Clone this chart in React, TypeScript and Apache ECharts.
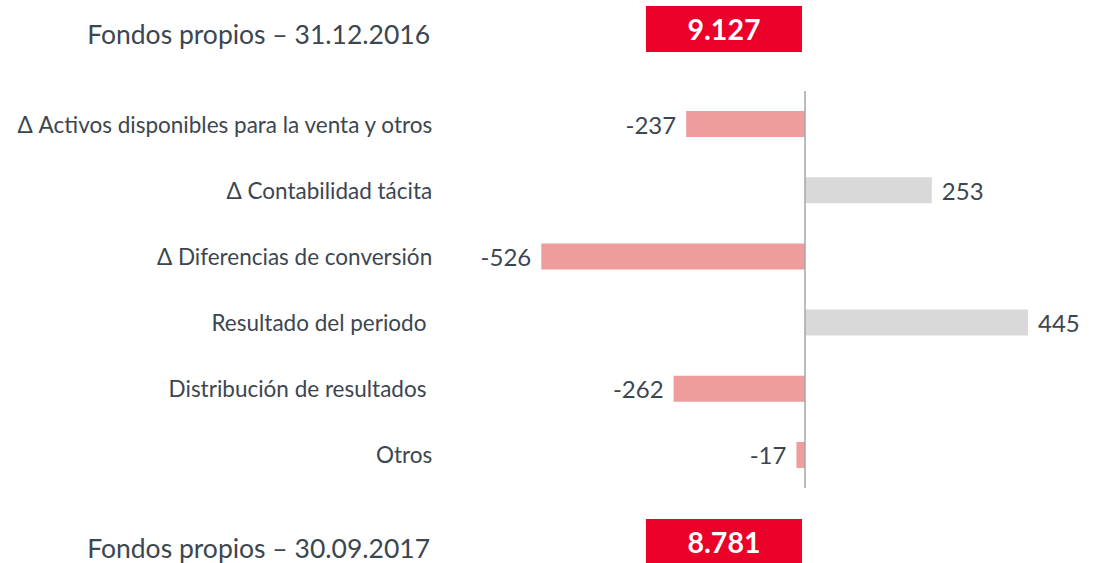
import React, { useEffect, useRef } from "react";
import * as echarts from "echarts";

const categories = [
  "Δ Activos disponibles para la venta y otros",
  "Δ Contabilidad tácita",
  "Δ Diferencias de conversión",
  "Resultado del periodo ",
  "Distribución de resultados ",
  "Otros",
];
const values = [-237, 253, -526, 445, -262, -17];
const totalLabels = ["Fondos propios – 31.12.2016", "Fondos propios – 30.09.2017"];
const totalValues = ["9.127", "8.781"];

const TEXT = "#3c4650";
const NEG = "#ee9c9c";
const POS = "#d9d9d9";
const RED = "#eb0029";
const FONT = "Lato";

export default function App() {
  const ref = useRef<HTMLDivElement>(null);
  useEffect(() => {
    document.body.style.margin = "0";
    const chart = echarts.init(ref.current!, null, { renderer: "svg" });
    const totalBox = (i: number, boxY: number, boxH: number, labelY: number) => [
      {
        type: "text",
        x: 430,
        y: labelY,
        style: {
          text: totalLabels[i],
          textAlign: "right",
          textVerticalAlign: "middle",
          fontSize: 26.5,
          fontFamily: FONT,
          fill: TEXT,
        },
      },
      {
        type: "rect",
        shape: { x: 646, y: boxY, width: 156, height: boxH },
        style: { fill: RED },
      },
      {
        type: "text",
        x: 724,
        y: boxY + boxH / 2,
        style: {
          text: totalValues[i],
          textAlign: "center",
          textVerticalAlign: "middle",
          fontSize: 28.5,
          fontWeight: "bold",
          fontFamily: FONT,
          fill: "#ffffff",
        },
      },
    ];
    chart.setOption({
      animation: false,
      grid: { left: 504.2, right: 45.4, top: 91, bottom: 75, containLabel: false },
      xAxis: {
        type: "value",
        min: -600,
        max: 500,
        axisLine: { show: false },
        axisTick: { show: false },
        axisLabel: { show: false },
        splitLine: { show: false },
      },
      yAxis: {
        type: "category",
        inverse: true,
        data: categories,
        axisLine: { show: false },
        axisTick: { show: false },
        axisLabel: {
          margin: 72,
          fontSize: 22.5,
          fontFamily: FONT,
          color: TEXT,
        },
      },
      series: [
        {
          type: "bar",
          barWidth: 26,
          data: values.map((v) => ({
            value: v,
            itemStyle: { color: v < 0 ? NEG : POS },
            label: { position: v < 0 ? "left" : "right" },
          })),
          label: {
            show: true,
            distance: 10,
            fontSize: 24,
            fontFamily: FONT,
            color: TEXT,
            formatter: "{c}",
          },
          markLine: {
            silent: true,
            symbol: ["none", "none"],
            label: { show: false },
            lineStyle: { color: "#a6a6a6", width: 1.5, type: "solid" },
            data: [{ xAxis: 0 }],
          },
        },
      ],
      graphic: [...totalBox(0, 6, 46, 34), ...totalBox(1, 519, 45, 548)],
    });
    return () => chart.dispose();
  }, []);
  return <div ref={ref} style={{ width: 1101, height: 563 }} />;
}
